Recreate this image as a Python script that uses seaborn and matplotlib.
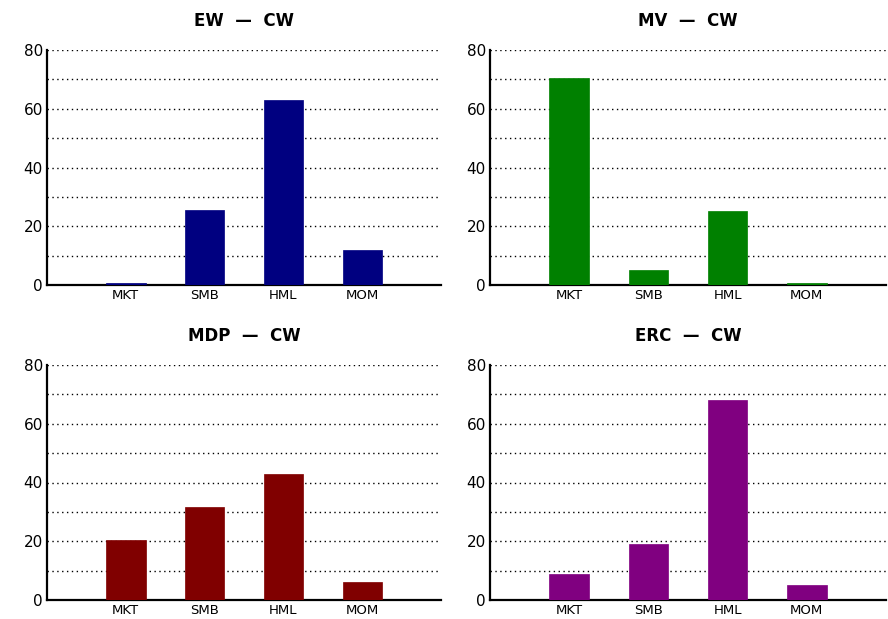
import matplotlib
matplotlib.use("Agg")
import matplotlib.pyplot as plt
import seaborn as sns
import pandas as pd

factors = ["MKT", "SMB", "HML", "MOM"]
ew_cw = [0.8, 25.5, 63.0, 12.0]
mv_cw = [70.5, 5.0, 25.3, 0.7]
mdp_cw = [20.5, 31.5, 43.0, 6.0]
erc_cw = [9.0, 19.0, 68.0, 5.0]
titles = ["EW  \u2014  CW", "MV  \u2014  CW", "MDP  \u2014  CW", "ERC  \u2014  CW"]
colors = ["#000080", "#008000", "#800000", "#800080"]

sns.set_style("white")
plt.rcParams["font.family"] = ["DejaVu Sans"]

fig = plt.figure(figsize=(8.88, 6.19), dpi=100)
rects = [
    [47/888, 1-285/619, 394/888, 235/619],
    [490/888, 1-285/619, 396/888, 235/619],
    [47/888, 1-600/619, 394/888, 235/619],
    [490/888, 1-600/619, 396/888, 235/619],
]
series = [ew_cw, mv_cw, mdp_cw, erc_cw]
for rect, vals, title, col in zip(rects, series, titles, colors):
    ax = fig.add_axes(rect)
    df = pd.DataFrame({"factor": factors, "value": vals})
    sns.barplot(data=df, x="factor", y="value", color=col, saturation=1,
                width=0.5, ax=ax, edgecolor=col, linewidth=0.5, zorder=3)
    ax.set_xlim(-1, 4)
    ax.set_ylim(0, 80)
    ax.set_yticks([0, 20, 40, 60, 80])
    ax.grid(False)
    for yv in range(10, 81, 10):
        ax.axhline(yv, color="black", linestyle=(0, (1, 2.5)), linewidth=1.0, zorder=1)
    ax.set_xlabel("")
    ax.set_ylabel("")
    ax.set_title(title, fontsize=12, fontweight="bold", pad=17, color="black")
    for s in ["top", "right"]:
        ax.spines[s].set_visible(False)
    for s in ["left", "bottom"]:
        ax.spines[s].set_color("black")
        ax.spines[s].set_linewidth(1.6)
        ax.spines[s].set_zorder(2)
    ax.tick_params(axis="y", labelsize=11, length=0, pad=3, labelcolor="black")
    ax.tick_params(axis="x", labelsize=9.5, length=0, pad=3, labelcolor="black")

fig.savefig("out.png", dpi=100)
